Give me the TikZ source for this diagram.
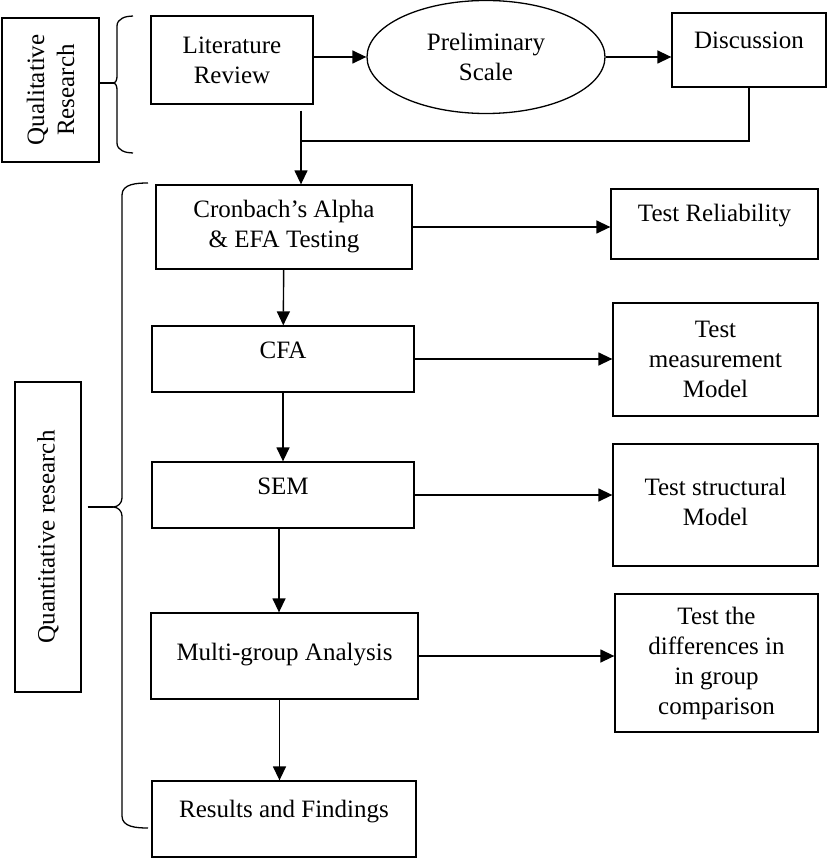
\documentclass[tikz,border=0pt]{standalone}
\usepackage{fontspec}
\setmainfont{Liberation Serif}
\usepackage{tikz}
\usetikzlibrary{shapes.geometric, arrows.meta, positioning}

\begin{document}
\begin{tikzpicture}[x=1pt, y=1pt,
    box/.style={rectangle, draw, line width=1.3pt, inner sep=0pt, align=center, font=\fontsize{25}{30}\selectfont},
    oval/.style={ellipse, draw, line width=1.3pt, inner sep=0pt, align=center, font=\fontsize{25}{30}\selectfont},
    arrow/.style={-{Triangle[length=14pt,width=13pt]}, line width=1.4pt},
    brace/.style={line width=1.3pt}
]
\useasboundingbox (0,0) rectangle (827,-858);

% qualitative part
\node[box, rotate=90, minimum width=144, minimum height=97] (qual) at (50.5,-90) {Qualitative\\Research};
\node[box, minimum width=162, minimum height=88] (lit) at (232,-60) {Literature\\Review};
\node[oval, minimum width=238, minimum height=113] (prelim) at (486,-57) {Preliminary\\Scale};
\node[box, minimum width=154, minimum height=74, text depth=20pt] (disc) at (749,-50) {Discussion};

% quantitative part
\node[box, minimum width=256, minimum height=84, text depth=6pt] (cron) at (284,-227) {Cronbach's Alpha\\\& EFA Testing};
\node[box, minimum width=207, minimum height=70, text depth=22pt] (testrel) at (714.5,-224) {Test Reliability};
\node[box, minimum width=262, minimum height=66, text depth=18pt] (cfa) at (283,-359) {CFA};
\node[box, minimum width=205, minimum height=113] (tmm) at (715.5,-359.5) {Test\\measurement\\Model};
\node[box, minimum width=262, minimum height=66, text depth=18pt] (sem) at (283,-495) {SEM};
\node[box, minimum width=205, minimum height=122, text depth=6pt] (tsm) at (715.5,-505) {Test structural\\Model};
\node[box, minimum width=267, minimum height=86, text depth=8pt] (mga) at (284.5,-656) {Multi-group Analysis};
\node[box, minimum width=203, minimum height=138] (tdiff) at (716.5,-663) {Test the\\differences in\\in group\\comparison};
\node[box, minimum width=264, minimum height=76, text depth=20pt] (res) at (284,-819) {Results and Findings};
\node[box, rotate=90, minimum width=310, minimum height=66] (quant) at (48,-537) {Quantitative research};

\coordinate (join) at (301,-141);
\coordinate (qtip) at (113,-83);
\coordinate (ntip) at (113,-507);

% braces
\draw[brace] (133,-16) to[out=180,in=90] (117,-26) -- (117,-76) to[out=-90,in=0] (qtip)
    to[out=0,in=90] (117,-90) -- (117,-143) to[out=-90,in=180] (133,-153);
\draw[brace] (qual.south |- qtip) -- (qtip);
\draw[brace] (148,-183) to[out=180,in=90] (122,-195) -- (122,-498) to[out=-90,in=0] (ntip)
    to[out=0,in=90] (122,-516) -- (122,-816) to[out=-90,in=180] (148,-828);
\draw[brace] ([xshift=6pt]quant.south |- ntip) -- (ntip);

% arrows
\draw[arrow] (lit.east |- prelim.west) -- (prelim.west);
\draw[arrow] (prelim.east) -- (disc.west |- prelim.east);
\draw[line width=1.4pt] (disc.south) |- (join);
\draw[arrow] ([yshift=-6pt]lit.south -| join) -- (join |- cron.north);
\draw[arrow] (cron.east) -- (testrel.west |- cron.east);
\draw[arrow] (cron) -- (cfa);
\draw[arrow] (cfa.east) -- (tmm.west |- cfa.east);
\draw[arrow] (cfa) -- (sem);
\draw[arrow] (sem.east) -- (tsm.west |- sem.east);
\draw[arrow] ([xshift=-4pt]sem.south) -- ([xshift=-4pt]sem.south |- mga.north);
\draw[arrow] (mga.east) -- (tdiff.west |- mga.east);
\draw[arrow] ([xshift=-5pt]mga.south) -- ([xshift=-5pt]mga.south |- res.north);
\end{tikzpicture}
\end{document}
